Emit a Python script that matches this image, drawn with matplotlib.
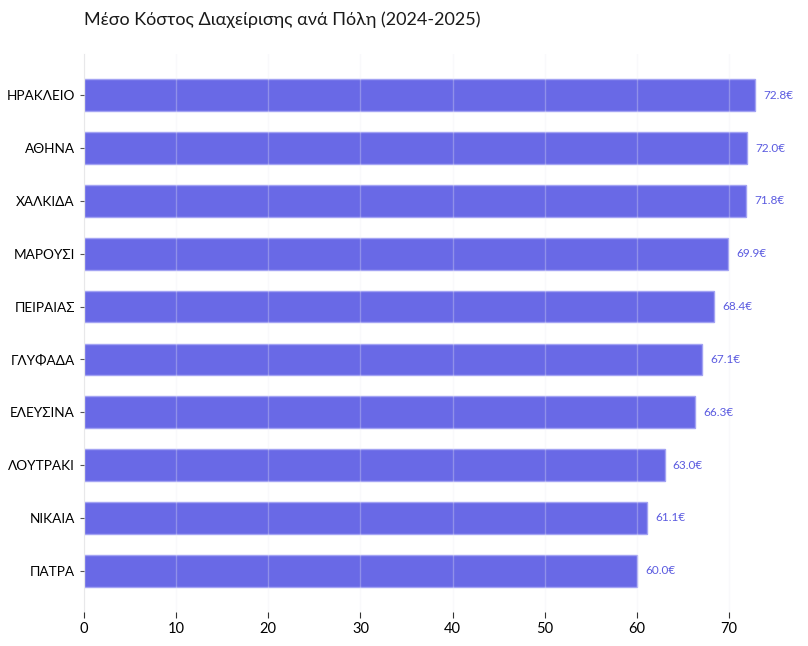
import matplotlib.pyplot as plt
import numpy as np

cities = ["ΗΡΑΚΛΕΙΟ", "ΑΘΗΝΑ", "ΧΑΛΚΙΔΑ", "ΜΑΡΟΥΣΙ", "ΠΕΙΡΑΙΑΣ",
          "ΓΛΥΦΑΔΑ", "ΕΛΕΥΣΙΝΑ", "ΛΟΥΤΡΑΚΙ", "ΝΙΚΑΙΑ", "ΠΑΤΡΑ"]
costs = [72.8, 72.0, 71.8, 69.9, 68.4, 67.1, 66.3, 63.0, 61.1, 60.0]

plt.rcParams['font.family'] = ['Lato', 'DejaVu Sans']

fig = plt.figure(figsize=(8.08, 6.46), dpi=100)
ax = fig.add_axes([84/808, 1-612/646, (788-84)/808, (612-54)/646])

y = np.arange(len(cities))
bars = ax.barh(y, costs, height=0.6, color="#6969e6", edgecolor="#a3a3f3",
               linewidth=1, zorder=2)
ax.set_yticks(y)
ax.set_yticklabels(cities, fontsize=9.8)
ax.invert_yaxis()
ax.set_xlim(0, 76.4)
ax.set_xticks(np.arange(0, 80, 10))
ax.tick_params(axis='x', labelsize=10.5, length=4, color="#333333")
ax.tick_params(axis='y', length=3, color="#555555")

ax.grid(axis='x', color="#ededf5", alpha=0.3, linewidth=1, zorder=3)
ax.set_axisbelow(False)
for s in ["top", "right", "bottom"]:
    ax.spines[s].set_visible(False)
ax.spines["left"].set_color("#e6e6e6")

for yi, v in zip(y, costs):
    ax.annotate(f"{v:.1f}€", (v, yi), xytext=(6, 0), textcoords="offset points",
                va="center", ha="left", fontsize=8.5, color="#5b5be0")

fig.text(84/808, 1-20/646, "Μέσο Κόστος Διαχείρισης ανά Πόλη (2024-2025)",
         fontsize=13, va="center", ha="left", color="#1a1a1a")

fig.savefig("out.png", dpi=100)
